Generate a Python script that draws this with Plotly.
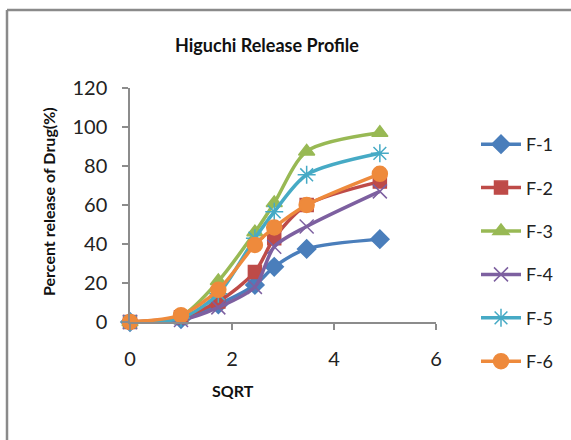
import plotly.graph_objects as go

# sqrt(t) values on the x axis
sqrt_t = [0, 1, 1.732, 2.449, 2.828, 3.464, 4.899]

f1 = [0, 1.5, 9, 19, 28.3, 37.5, 42.5]
f2 = [0, 2.5, 10.5, 25.7, 43, 60, 72]
f3 = [0, 3, 21, 46, 61, 87.5, 97]
f4 = [0, 1, 7.5, 18, 38.6, 49, 67]
f5 = [0, 2, 14.5, 43, 56.5, 75.5, 86.5]
f6 = [0, 3.5, 16.5, 39.5, 48.5, 60, 76]

names = ["F-1", "F-2", "F-3", "F-4", "F-5", "F-6"]
series = [f1, f2, f3, f4, f5, f6]
colors = ["#4A7EBB", "#BE4B48", "#98B954", "#7D60A0", "#46AAC5", "#EE8A3C"]
symbols = ["diamond", "square", "triangle-up", "x-thin-open", "asterisk-open", "circle"]
sizes = [14, 13, 14, 14, 15, 15]

FONT = "Lato, Open Sans, sans-serif"

fig = go.Figure()

for name, ys, col, sym, sz in zip(names, series, colors, symbols, sizes):
    fig.add_trace(go.Scatter(
        x=sqrt_t, y=ys, name=name,
        mode="lines+markers",
        line=dict(color=col, width=3.5, shape="spline", smoothing=0.8),
        marker=dict(symbol=sym, size=sz, color=col,
                    line=dict(color=col, width=1.5)),
        legendgroup=name,
        cliponaxis=False,
    ))

# pixel geometry of the plot area (571x440 page)
L, R, T, B = 130, 135, 88, 118
pw = 571 - L - R
ph = 440 - T - B

def px(xp):
    return (xp - L) / pw

def py(yp):
    return (440 - B - yp) / ph

def label(text, x, y, size, angle=0):
    return dict(text=text, x=px(x), y=py(y), xref="paper", yref="paper",
                xanchor="center", yanchor="middle", showarrow=False,
                textangle=angle,
                font=dict(size=size, color="#111111", family=FONT))

fig.update_layout(
    width=571, height=440,
    margin=dict(l=L, r=R, t=T, b=B, autoexpand=False),
    paper_bgcolor="white", plot_bgcolor="white",
    font=dict(family=FONT, color="#222222"),
    showlegend=True,
    legend=dict(
        x=px(476), y=py(126), xanchor="left", yanchor="top",
        font=dict(size=18, color="#222222", family=FONT),
        tracegroupgap=17, itemwidth=40, maxheight=400,
        bgcolor="rgba(0,0,0,0)",
    ),
    annotations=[
        label("<b>Higuchi Release Profile</b>", 267, 45, 18),
        label("<b>SQRT</b>", 233, 390, 16),
        label("<b>Percent release of Drug(%)</b>", 48, 202, 16, angle=-90),
    ],
    shapes=[
        dict(type="line", xref="paper", yref="paper",
             x0=px(7), x1=px(7), y0=py(10), y1=py(445),
             line=dict(color="#8a8a8a", width=2.5)),
        dict(type="line", xref="paper", yref="paper",
             x0=px(7), x1=px(575), y0=py(10), y1=py(10),
             line=dict(color="#8a8a8a", width=2.5)),
    ],
)

fig.update_xaxes(
    range=[0, 6], dtick=2, tick0=0,
    showline=True, linecolor="#8c8c8c", linewidth=1.5,
    ticks="outside", ticklen=6, tickcolor="#8c8c8c", tickwidth=1.5,
    showgrid=False, zeroline=False,
    tickfont=dict(size=20, color="#222222", family=FONT),
    ticklabelstandoff=12,
)
fig.update_yaxes(
    range=[0, 120], dtick=20, tick0=0,
    showline=True, linecolor="#8c8c8c", linewidth=1.5,
    ticks="outside", ticklen=6, tickcolor="#8c8c8c", tickwidth=1.5,
    showgrid=False, zeroline=False,
    tickfont=dict(size=20, color="#222222", family=FONT),
    ticklabelstandoff=11,
)

# page body has a default 8px margin; drop it so the figure fills the window
fig.write_html("out.html", config={"displayModeBar": False},
               post_script="document.body.style.margin='0px';")
